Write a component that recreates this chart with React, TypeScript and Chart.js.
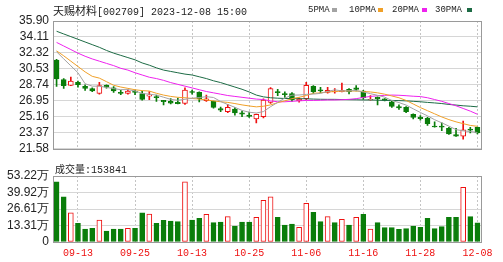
import React, { useEffect, useRef } from 'react';
import { Chart, registerables } from 'chart.js';
Chart.register(...registerables);

const dates = ['09-08','09-11','09-12','09-13','09-14','09-15','09-18','09-19','09-20','09-21','09-22','09-25','09-26','09-27','09-28','10-09','10-10','10-11','10-12','10-13','10-16','10-17','10-18','10-19','10-20','10-23','10-24','10-25','10-26','10-27','10-30','10-31','11-01','11-02','11-03','11-06','11-07','11-08','11-09','11-10','11-13','11-14','11-15','11-16','11-17','11-20','11-21','11-22','11-23','11-24','11-27','11-28','11-29','11-30','12-01','12-04','12-05','12-06','12-07','12-08'];
const tickDates = ['09-13','09-25','10-13','10-25','11-06','11-16','11-28','12-08'];

const openP = [31.51,29.35,28.69,29.03,28.58,28.34,27.78,28.69,28.40,27.92,27.78,28.06,27.78,27.47,27.43,27.00,26.90,26.78,26.67,28.00,27.90,26.98,26.90,26.08,25.74,26.04,25.60,25.37,24.92,25.18,26.77,28.00,27.78,27.78,26.98,27.19,28.58,28.20,27.90,27.95,27.99,28.24,28.40,28.06,27.05,27.35,27.19,26.84,26.30,26.22,25.45,25.10,25.00,24.12,24.12,23.88,23.18,23.00,23.80,23.99];
const highP = [31.60,29.45,29.63,29.18,28.76,28.40,29.03,28.76,28.55,28.13,28.20,28.16,28.06,27.99,27.60,27.02,27.20,27.25,28.40,28.16,27.96,27.60,26.94,26.25,26.57,26.20,25.80,25.69,25.48,27.19,28.43,28.24,27.96,27.88,27.30,29.03,28.65,28.48,28.48,28.34,28.93,28.34,28.65,28.13,27.55,27.40,27.20,26.90,26.50,26.30,25.50,25.30,25.10,24.60,24.50,23.99,23.88,24.70,23.99,24.00];
const lowP = [28.58,28.35,28.64,28.48,28.13,27.99,27.71,28.38,27.90,27.64,27.70,27.64,27.02,27.09,26.90,26.50,26.60,26.60,26.56,27.71,26.84,26.90,26.12,25.74,25.63,25.35,25.17,25.10,24.47,25.04,26.67,27.54,27.33,26.90,26.80,27.09,27.78,27.88,27.80,27.80,27.96,27.72,28.06,27.12,27.02,26.50,26.95,26.22,26.00,25.63,24.92,24.80,24.20,24.00,23.60,23.20,22.98,22.66,23.36,23.25];
const closeP = [29.42,28.65,29.18,28.76,28.34,28.06,28.65,28.48,28.06,27.78,28.06,27.90,27.12,27.62,27.30,26.85,26.70,26.64,28.17,27.90,27.19,27.19,26.22,25.90,26.22,25.60,25.46,25.20,25.45,27.05,28.33,27.86,27.64,27.09,27.12,28.69,27.99,28.06,28.13,28.06,28.13,27.99,28.24,27.30,27.12,27.20,27.00,26.32,26.15,25.74,25.10,24.96,24.40,24.02,23.99,23.25,23.00,23.70,23.66,23.37];

const volume = [486000,365000,236000,151000,105000,110000,177000,89000,105000,105000,110000,110000,236000,226000,151000,175000,169000,164000,486000,177000,191000,223000,156000,161000,204000,129000,161000,161000,199000,336000,365000,199000,137000,145000,118000,312000,239000,164000,204000,156000,183000,137000,199000,223000,105000,156000,116000,116000,102000,108000,129000,118000,191000,108000,124000,199000,199000,441000,204000,153841];
const volRise = [0,0,1,0,0,0,1,0,0,0,1,0,0,1,0,0,0,0,1,0,0,1,0,0,1,0,0,0,1,1,1,0,0,0,1,1,0,0,1,0,1,0,1,0,1,0,0,0,0,0,0,0,0,0,0,0,0,1,0,0];

const ma5 = [32.45,31.66,30.88,30.10,28.87,28.60,28.60,28.46,28.32,28.21,28.21,28.06,27.78,27.70,27.60,27.36,27.12,27.02,27.13,27.25,27.32,27.42,27.33,26.88,26.54,26.23,25.88,25.68,25.59,25.75,26.30,26.78,27.27,27.59,27.61,27.68,27.71,27.79,28.00,28.19,28.07,28.07,28.11,27.94,27.76,27.57,27.37,26.99,26.76,26.48,26.06,25.65,25.27,24.84,24.49,24.12,23.73,23.59,23.52,23.40];
const ma10 = [32.55,32.00,31.40,30.80,30.20,29.70,29.50,29.10,28.70,28.50,28.35,28.20,28.10,28.05,27.80,27.60,27.45,27.35,27.30,27.22,27.15,27.05,26.95,26.85,26.78,26.65,26.50,26.38,26.28,26.35,26.50,26.75,26.95,27.20,27.35,27.55,27.80,27.85,27.95,28.00,28.05,28.06,28.05,28.00,27.95,27.85,27.70,27.50,27.30,27.00,26.60,26.20,25.85,25.50,25.15,24.85,24.60,24.40,24.20,24.10];
const ma20 = [33.50,33.10,32.70,32.30,31.95,31.65,31.40,31.15,30.90,30.60,30.40,30.10,29.85,29.60,29.45,29.25,29.00,28.80,28.60,28.40,28.20,28.00,27.85,27.70,27.55,27.45,27.35,27.25,27.15,27.10,26.95,26.85,26.85,26.90,26.95,27.00,27.00,27.02,27.05,27.05,27.08,27.12,27.20,27.33,27.45,27.52,27.57,27.60,27.58,27.53,27.47,27.43,27.30,27.10,26.90,26.65,26.40,26.10,25.80,25.45];
const ma30 = [34.75,34.45,34.15,33.85,33.55,33.25,32.95,32.60,32.30,32.05,31.80,31.55,31.20,30.95,30.65,30.40,30.25,30.10,29.95,29.85,29.65,29.45,29.20,29.00,28.75,28.50,28.25,27.95,27.60,27.40,27.30,27.25,27.22,27.20,27.20,27.18,27.15,27.13,27.12,27.12,27.10,27.08,27.07,27.05,27.05,27.03,27.00,27.00,26.98,26.95,26.90,26.85,26.78,26.72,26.65,26.55,26.48,26.40,26.35,26.28];

const priceTicks = [21.58, 23.37, 25.16, 26.95, 28.74, 30.53, 32.32, 34.11, 35.90];
const volTicks = [0, 133050, 266100, 399150, 532200];
const volTickLabels = ['0', '13.31万', '26.61万', '39.92万', '53.22万'];

const maNames = ['5PMA', '10PMA', '20PMA', '30PMA'];
const maColors = ['#a3a3a3', '#f0a028', '#ee22ee', '#1d6b45'];

const RED = '#ee1111';
const GREEN = '#0a7d0a';
const GRID = '#d6d6d6';
const FRAME = '#9a9a9a';

const framePlugin = {
  id: 'frame',
  afterDraw(chart: any) {
    const { ctx, chartArea: a } = chart;
    ctx.save();
    ctx.strokeStyle = FRAME;
    ctx.lineWidth = 1;
    ctx.strokeRect(Math.round(a.left) + 0.5, Math.round(a.top) + 0.5, Math.round(a.right - a.left), Math.round(a.bottom - a.top));
    ctx.restore();
  },
};

const xGridColor = (c: any) => (tickDates.includes(dates[c.index]) ? '#c4c4c4' : 'rgba(0,0,0,0)');
const tickFont = { family: '"Liberation Sans", Arial, sans-serif', size: 12 };

export default function App() {
  const priceRef = useRef<HTMLCanvasElement>(null);
  const volRef = useRef<HTMLCanvasElement>(null);

  useEffect(() => {
    const up = closeP.map((c, i) => c >= openP[i]);
    const price = new Chart(priceRef.current!, {
      type: 'bar',
      data: {
        labels: dates,
        datasets: [
          ...[ma5, ma10, ma20, ma30].map((d, k) => ({
            type: 'line' as const,
            label: maNames[k],
            data: d,
            borderColor: maColors[k],
            borderWidth: 1,
            pointRadius: 0,
            tension: 0,
            order: 1,
          })),
          {
            label: 'body',
            data: openP.map((o, i) => [o, closeP[i]]),
            backgroundColor: up.map((u) => (u ? '#ffffff' : GREEN)),
            borderColor: up.map((u) => (u ? RED : GREEN)),
            borderWidth: 1,
            borderSkipped: false,
            barThickness: 5,
            grouped: false,
            order: 2,
          },
          {
            label: 'wick',
            data: lowP.map((l, i) => [l, highP[i]]),
            backgroundColor: up.map((u) => (u ? RED : GREEN)),
            borderWidth: 0,
            barThickness: 1,
            grouped: false,
            order: 3,
          },
        ] as any,
      },
      options: {
        responsive: false,
        devicePixelRatio: 1,
        animation: false,
        layout: { padding: { top: 21, bottom: 3, left: 0, right: 22 } },
        plugins: { legend: { display: false }, tooltip: { enabled: false } },
        scales: {
          x: {
            offset: true,
            grid: { offset: false, color: xGridColor, drawTicks: false, lineWidth: 1 },
            border: { display: false, dash: [2, 2] },
            ticks: { display: false, autoSkip: false },
            afterFit: (s: any) => { s.height = 0; },
          },
          y: {
            min: 21.58,
            max: 35.9,
            afterBuildTicks: (s: any) => { s.ticks = priceTicks.map((v) => ({ value: v })); },
            afterFit: (s: any) => { s.width = 53; },
            grid: { color: GRID, drawTicks: false },
            border: { display: false },
            ticks: { autoSkip: false, font: tickFont, color: '#222', padding: 4, callback: (v: any) => Number(v).toFixed(2) },
          },
        },
      } as any,
      plugins: [framePlugin],
    });

    const vol = new Chart(volRef.current!, {
      type: 'bar',
      data: {
        labels: dates,
        datasets: [
          {
            label: '成交量',
            data: volume,
            backgroundColor: volRise.map((r) => (r ? '#ffffff' : GREEN)),
            borderColor: volRise.map((r) => (r ? RED : GREEN)),
            borderWidth: 1,
            borderSkipped: false,
            barThickness: 5,
          },
        ] as any,
      },
      options: {
        responsive: false,
        devicePixelRatio: 1,
        animation: false,
        layout: { padding: { top: 16, bottom: 0, left: 0, right: 22 } },
        plugins: { legend: { display: false }, tooltip: { enabled: false } },
        scales: {
          x: {
            offset: true,
            grid: { offset: false, color: xGridColor, drawTicks: false },
            border: { display: false, dash: [2, 2] },
            ticks: {
              autoSkip: false,
              maxRotation: 0,
              padding: 5,
              color: RED,
              font: { family: '"Liberation Mono", monospace', size: 10 },
              callback: (_v: any, i: number) => (tickDates.includes(dates[i]) ? dates[i] : ''),
            },
            afterFit: (s: any) => { s.height = 20; },
          },
          y: {
            min: 0,
            max: 532200,
            afterBuildTicks: (s: any) => { s.ticks = volTicks.map((v) => ({ value: v })); },
            afterFit: (s: any) => { s.width = 53; },
            grid: { color: GRID, drawTicks: false },
            border: { display: false },
            ticks: { autoSkip: false, font: tickFont, color: '#222', padding: 4, callback: (_v: any, i: number) => volTickLabels[i] },
          },
        },
      } as any,
      plugins: [framePlugin],
    });

    return () => { price.destroy(); vol.destroy(); };
  }, []);

  const legendX = [308, 349, 392, 435];
  const markerX = [332, 378, 422, 467];

  return (
    <div style={{ position: 'absolute', left: 0, top: 0, width: 503, height: 262, background: '#fff', overflow: 'hidden' }}>
      <canvas ref={priceRef} width={503} height={160} style={{ position: 'absolute', left: 0, top: 0 }} />
      <canvas ref={volRef} width={503} height={102} style={{ position: 'absolute', left: 0, top: 160 }} />
      <div style={{ position: 'absolute', left: 53, top: 3, whiteSpace: 'nowrap', color: '#222', lineHeight: '14px' }}>
        <span style={{ fontFamily: '"Noto Sans CJK SC", sans-serif', fontSize: 11 }}>天赐材料</span>
        <span style={{ fontFamily: '"Liberation Mono", monospace', fontSize: 10 }}>[002709] 2023-12-08 15:00</span>
      </div>
      {maNames.map((n, k) => (
        <React.Fragment key={n}>
          <div style={{ position: 'absolute', left: legendX[k], top: 4, fontFamily: '"Liberation Mono", monospace', fontSize: 9, color: '#222', lineHeight: '12px', whiteSpace: 'nowrap' }}>{n}</div>
          <div style={{ position: 'absolute', left: markerX[k], top: 8, width: 5, height: 4, background: maColors[k] }} />
        </React.Fragment>
      ))}
      <div style={{ position: 'absolute', left: 55, top: 162, whiteSpace: 'nowrap', color: '#222', lineHeight: '12px' }}>
        <span style={{ fontFamily: '"Noto Sans CJK SC", sans-serif', fontSize: 10 }}>成交量</span>
        <span style={{ fontFamily: '"Liberation Mono", monospace', fontSize: 10 }}>:153841</span>
      </div>
    </div>
  );
}
